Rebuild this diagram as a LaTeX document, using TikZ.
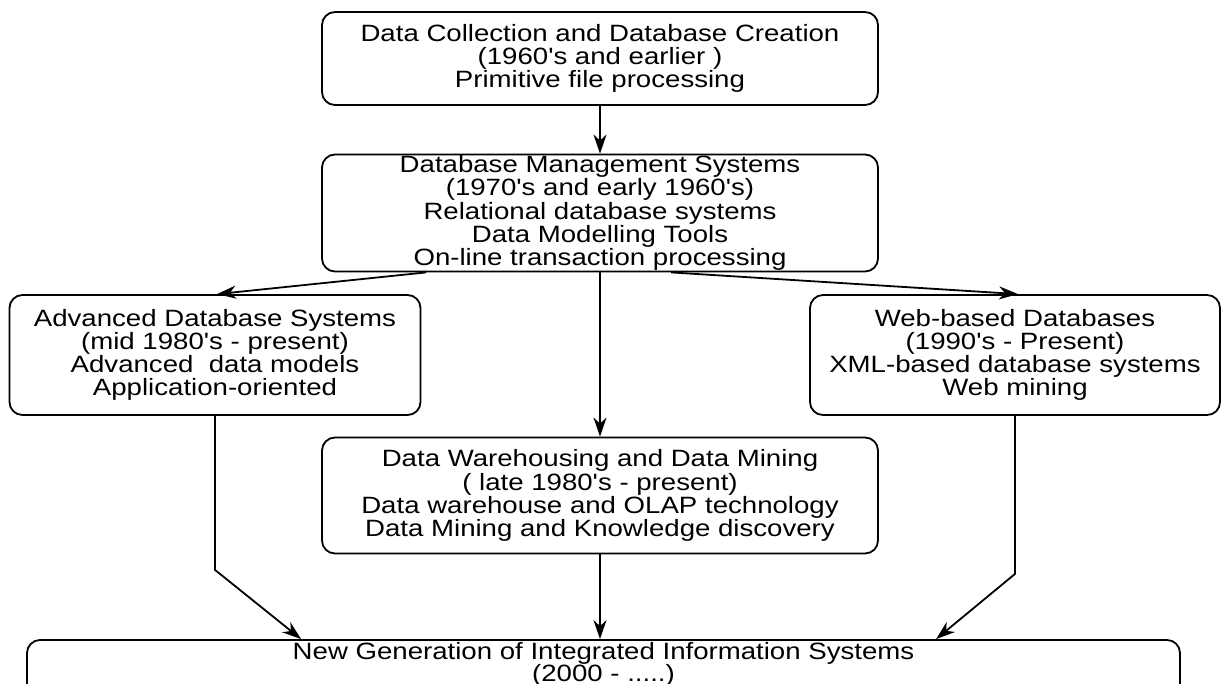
\documentclass[tikz,border=0pt]{standalone}
\usepackage{fontspec}
\usetikzlibrary{arrows.meta,calc}
\newfontfamily\boxfont[FakeStretch=1.17,Ligatures=TeXOff]{Liberation Sans}

\tikzset{
  stage/.style={draw=black, line width=1.8pt, rounded corners=13pt,
    align=center, inner sep=0pt,
    font=\boxfont\fontsize{23.6}{23.2}\selectfont},
  caption/.style={align=center, inner sep=0pt,
    font=\boxfont\fontsize{23.6}{22}\selectfont},
  flow/.style={line width=1.8pt,
    -{Stealth[length=19pt,width=13pt,inset=6pt]}},
}

\begin{document}
\begin{tikzpicture}[x=1pt,y=-1pt]
  \clip (0,0) rectangle (1223,683);
  \fill[white] (0,0) rectangle (1223,683);

  % stages of the evolution
  \node[stage, minimum width=556, minimum height=93] (collect) at (600,58.5)
    {Data Collection and Database Creation\\(1960's and earlier )\\Primitive file processing};
  \node[stage, minimum width=556, minimum height=117] (dbms) at (600,213)
    {Database Management Systems\\(1970's and early 1960's)\\Relational database systems\\Data Modelling Tools\\On-line transaction processing};
  \node[stage, minimum width=411, minimum height=120] (adv) at (215,355)
    {Advanced Database Systems\\(mid 1980's - present)\\Advanced~ data models\\Application-oriented};
  \node[stage, minimum width=410, minimum height=120] (web) at (1015,355)
    {Web-based Databases\\(1990's - Present)\\XML-based database systems\\Web mining};
  \node[stage, minimum width=556, minimum height=116] (dw) at (600,495.5)
    {Data Warehousing and Data Mining\\( late 1980's - present)\\Data warehouse and OLAP technology\\Data Mining and Knowledge discovery};
  \node[stage, minimum width=1153, minimum height=80] (gen) at (603.5,680) {};
  \node[caption] (gentext) at (603.5,664.5)
    {New Generation of Integrated Information Systems\\(2000 - .....)};

  % connectors
  \draw[flow] (collect) -- (dbms);
  \draw[flow] ($(dbms.south west)+(105,0)$) -- ($(adv.north)+(2,0)$);
  \draw[flow] ($(dbms.south west)+(350,0)$) -- ($(web.north)+(3,0)$);
  \draw[flow] (dbms) -- (dw);
  \draw[flow] (adv.south) -- ++(0,154) coordinate (bendL)
    -- ($(gen.north west)+(275,0)$);
  \draw[flow] (dw.south) -- (dw.south |- gen.north);
  \draw[flow] (web.south) -- ++(0,158) coordinate (bendR)
    -- ($(gen.north west)+(910,0)$);
\end{tikzpicture}
\end{document}
